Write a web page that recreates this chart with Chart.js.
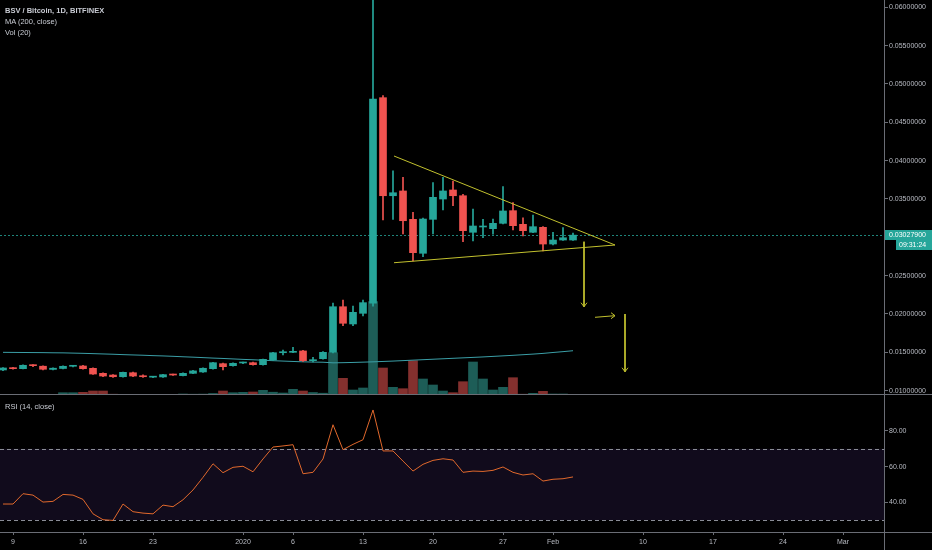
<!DOCTYPE html>
<html>
<head>
<meta charset="utf-8">
<title>BSV / Bitcoin, 1D, BITFINEX</title>
<script src="https://cdn.jsdelivr.net/npm/chart.js@4.4.1/dist/chart.umd.min.js"></script>
<style>
  html, body { margin: 0; padding: 0; background: #000; }
  #wrap { position: relative; width: 932px; height: 550px; overflow: hidden;
          font-family: "Liberation Sans", Arial, sans-serif; }
  canvas { position: absolute; left: 0; }
  #main { top: 0; }
  #rsi { top: 395px; }
  .legend { position: absolute; left: 5px; color: #c9ccd4; font-size: 7.5px; line-height: 11px; }
  .legend b { font-weight: 600; }
</style>
</head>
<body>
<div id="wrap">
  <canvas id="main" width="932" height="395"></canvas>
  <canvas id="rsi" width="932" height="155"></canvas>
  <div class="legend" style="top:5px"><b>BSV / Bitcoin, 1D, BITFINEX</b><br>MA (200, close)<br>Vol (20)</div>
  <div class="legend" style="top:401px">RSI (14, close)</div>
</div>
<script>
"use strict";

// Days counted from 1 Jan 2020 (Dec 8 2019 .. Feb 3 2020).
const days = [-24, -23, -22, -21, -20, -19, -18, -17, -16, -15, -14, -13, -12, -11, -10, -9,
  -8, -7, -6, -5, -4, -3, -2, -1, 0, 1, 2, 3, 4, 5, 6, 7, 8, 9, 10, 11, 12, 13, 14, 15, 16,
  17, 18, 19, 20, 21, 22, 23, 24, 25, 26, 27, 28, 29, 30, 31, 32, 33];

const opens = [0.01269, 0.01295, 0.01286, 0.01330, 0.01318, 0.01276, 0.01288, 0.01317, 0.01321, 0.01290,
  0.01225, 0.01203, 0.01181, 0.01233, 0.01190, 0.01175, 0.01178, 0.01210, 0.01195, 0.01225,
  0.01243, 0.01286, 0.01351, 0.01325, 0.01360, 0.01364, 0.01338, 0.01399, 0.01494, 0.01499,
  0.01517, 0.01390, 0.01416, 0.01499, 0.02094, 0.01869, 0.02008, 0.02140, 0.04821, 0.03542,
  0.03604, 0.03234, 0.02791, 0.03234, 0.03499, 0.03617, 0.03542, 0.03065, 0.03134, 0.03112,
  0.03182, 0.03347, 0.03169, 0.03065, 0.03130, 0.02912, 0.02964, 0.02964];
const highs = [0.01300, 0.01302, 0.01335, 0.01340, 0.01322, 0.01298, 0.01322, 0.01328, 0.01330, 0.01298,
  0.01230, 0.01210, 0.01242, 0.01240, 0.01205, 0.01182, 0.01212, 0.01215, 0.01230, 0.01265,
  0.01298, 0.01370, 0.01360, 0.01362, 0.01372, 0.01372, 0.01412, 0.01500, 0.01529, 0.01565,
  0.01525, 0.01434, 0.01510, 0.02143, 0.02181, 0.02103, 0.02181, 0.06300, 0.04847, 0.03868,
  0.03782, 0.03326, 0.03250, 0.03712, 0.03782, 0.03734, 0.03560, 0.03369, 0.03234, 0.03238,
  0.03660, 0.03451, 0.03255, 0.03291, 0.03140, 0.03065, 0.03125, 0.03056];
const lows = [0.01260, 0.01280, 0.01282, 0.01312, 0.01270, 0.01270, 0.01282, 0.01310, 0.01280, 0.01210,
  0.01182, 0.01172, 0.01176, 0.01182, 0.01172, 0.01170, 0.01172, 0.01198, 0.01190, 0.01220,
  0.01238, 0.01280, 0.01268, 0.01320, 0.01350, 0.01330, 0.01332, 0.01392, 0.01464, 0.01494,
  0.01380, 0.01373, 0.01410, 0.01490, 0.01846, 0.01846, 0.01973, 0.02100, 0.03225, 0.03234,
  0.03043, 0.02690, 0.02747, 0.03043, 0.03356, 0.03412, 0.02942, 0.02951, 0.02994, 0.03039,
  0.03173, 0.03095, 0.03017, 0.03060, 0.02821, 0.02899, 0.02960, 0.02960];
const closes = [0.01295, 0.01286, 0.01330, 0.01325, 0.01278, 0.01292, 0.01317, 0.01321, 0.01286, 0.01216,
  0.01190, 0.01181, 0.01238, 0.01190, 0.01181, 0.01179, 0.01208, 0.01203, 0.01225, 0.01257,
  0.01291, 0.01364, 0.01312, 0.01356, 0.01364, 0.01338, 0.01408, 0.01494, 0.01499, 0.01512,
  0.01390, 0.01403, 0.01499, 0.02094, 0.01878, 0.02021, 0.02147, 0.04804, 0.03542, 0.03581,
  0.03216, 0.02799, 0.03238, 0.03521, 0.03604, 0.03542, 0.03086, 0.03147, 0.03140, 0.03182,
  0.03343, 0.03151, 0.03086, 0.03138, 0.02912, 0.02964, 0.02994, 0.030279];

const volumes = [300, 400, 500, 700, 700, 600, 2300, 2300, 2700, 4000,
  4000, 800, 700, 700, 500, 400, 600, 500, 1000, 800,
  900, 1500, 4000, 2300, 2700, 3000, 4700, 2800, 2000, 5700,
  4000, 2500, 1800, 42300, 16700, 5000, 7000, 93300, 27000, 7700,
  6300, 34300, 16000, 10000, 4000, 2300, 13300, 33000, 16000, 5000,
  7700, 17300, 800, 1700, 3700, 1000, 1000, 700];

const ma200 = [0.01499, 0.01498, 0.01497, 0.01496, 0.01495, 0.01493, 0.01492, 0.01489, 0.01486, 0.01482,
  0.01478, 0.01474, 0.01469, 0.01465, 0.01461, 0.01456, 0.01452, 0.01447, 0.01441, 0.01436,
  0.01430, 0.01424, 0.01419, 0.01413, 0.01407, 0.01402, 0.01396, 0.01390, 0.01385, 0.01380,
  0.01375, 0.01372, 0.01370, 0.01362, 0.01364, 0.01367, 0.01371, 0.01375, 0.01380, 0.01385,
  0.01391, 0.01397, 0.01403, 0.01409, 0.01415, 0.01421, 0.01427, 0.01433, 0.01439, 0.01446,
  0.01453, 0.01460, 0.01468, 0.01476, 0.01485, 0.01497, 0.01508, 0.01520];

const rsi14 = [39.0, 39.0, 44.8, 44.0, 40.1, 40.5, 44.4, 44.0, 41.6, 33.5,
  30.2, 29.8, 39.0, 34.7, 33.9, 33.5, 38.4, 37.5, 41.4, 46.9,
  54.0, 61.6, 56.6, 59.6, 60.2, 57.1, 64.3, 71.0, 71.6, 72.3,
  56.0, 56.8, 64.3, 83.5, 69.5, 72.5, 75.1, 91.8, 68.8, 68.8,
  63.1, 57.5, 61.3, 63.5, 64.4, 63.7, 56.8, 57.5, 57.3, 57.9,
  59.8, 56.8, 55.3, 56.0, 51.9, 52.9, 53.2, 54.2];

// Hand-drawn triangle and arrows, as [day, price]
const upperLine = [[15.1, 0.04060], [37.2, 0.02899]];
const lowerLine = [[15.1, 0.02668], [37.2, 0.02899]];
const arrowDownA = [[34.1, 0.02942], [34.1, 0.02094]];
const arrowRight = [[35.2, 0.01956], [37.2, 0.01977]];
const arrowDownB = [[38.2, 0.01999], [38.2, 0.01246]];

// Axis ticks
const priceTicks = [0.010, 0.015, 0.020, 0.025, 0.030, 0.035, 0.040, 0.045, 0.050, 0.055, 0.060];
const rsiTicks = [40, 60, 80];
const rsiBands = [70, 30];
const tickDays = [-23, -16, -9, 0, 5, 12, 19, 26, 31, 40, 47, 54, 60];
const tickLabels = ["9", "16", "23", "2020", "6", "13", "20", "27", "Feb", "10", "17", "24", "Mar"];
const timeLeft = "09:31:24";

const X_MIN = -24.3, X_MAX = 64.1;
const UP = "#26a69a", DOWN = "#ef5350";
const UP_VOL = "#1d5d57", DOWN_VOL = "#84302e";
const DRAW = "#c2c12e";
const AXIS = "#6a6d75";
const TEXT = "#b8bbc3";
const FONT = { family: "Liberation Sans, Arial, sans-serif", size: 7 };

const isUp = closes.map((c, i) => c >= opens[i]);
const pts = (arr) => arr.map(([x, y]) => ({ x, y }));
const series = (vals) => days.map((d, i) => ({ x: d, y: vals[i] }));

const fitRight = (s) => { s.width = 48; s.paddingTop = 0; s.paddingBottom = 0; };
const fitBottom = (s) => { s.height = 18; s.paddingLeft = 0; s.paddingRight = 0; };

/** A thin yellow drawing-tool line on the price scale. */
function drawLine(line) {
  return {
    type: "line", data: pts(line), yAxisID: "y", borderColor: DRAW, borderWidth: 1,
    pointRadius: 0, order: 1,
  };
}

/** Arrowheads, current price line and price label on the main chart. */
const mainOverlay = {
  id: "mainOverlay",
  beforeDatasetsDraw(chart) {
    const { ctx, chartArea, scales } = chart;
    const last = closes[closes.length - 1];
    const y = scales.y.getPixelForValue(last);
    ctx.save();
    ctx.strokeStyle = "rgba(38,166,154,0.8)";
    ctx.setLineDash([2, 2]);
    ctx.lineWidth = 1;
    ctx.beginPath();
    ctx.moveTo(chartArea.left, Math.round(y) + 0.5);
    ctx.lineTo(chartArea.right, Math.round(y) + 0.5);
    ctx.stroke();
    ctx.restore();
  },
  afterDatasetsDraw(chart) {
    const { ctx, scales } = chart;
    const head = (arrow, dir) => {
      const [x, v] = arrow[arrow.length - 1];
      const px = scales.x.getPixelForValue(x);
      const py = scales.y.getPixelForValue(v);
      ctx.beginPath();
      if (dir === "down") {
        ctx.moveTo(px - 3, py - 4); ctx.lineTo(px, py); ctx.lineTo(px + 3, py - 4);
      } else {
        ctx.moveTo(px - 4, py - 3); ctx.lineTo(px, py); ctx.lineTo(px - 4, py + 3);
      }
      ctx.stroke();
    };
    ctx.save();
    ctx.strokeStyle = DRAW;
    ctx.lineWidth = 1;
    head(arrowDownA, "down");
    head(arrowRight, "right");
    head(arrowDownB, "down");
    ctx.restore();
  },
  afterDraw(chart) {
    const { ctx, chartArea, scales, width } = chart;
    const last = closes[closes.length - 1];
    const y = Math.round(scales.y.getPixelForValue(last));
    ctx.save();
    // panel separator
    ctx.strokeStyle = AXIS;
    ctx.lineWidth = 1;
    ctx.beginPath();
    ctx.moveTo(0, chartArea.bottom - 0.5);
    ctx.lineTo(width, chartArea.bottom - 0.5);
    ctx.stroke();
    // price label + countdown
    ctx.fillStyle = UP;
    ctx.fillRect(chartArea.right + 1, y - 5, width - chartArea.right - 1, 10);
    ctx.fillRect(chartArea.right + 12, y + 5, width - chartArea.right - 12, 10);
    ctx.fillStyle = "#ffffff";
    ctx.font = "7px Liberation Sans, Arial, sans-serif";
    ctx.textBaseline = "middle";
    ctx.fillText(last.toFixed(8), chartArea.right + 5, y);
    ctx.fillText(timeLeft, chartArea.right + 15, y + 10);
    ctx.restore();
  },
};

const mainChart = new Chart(document.getElementById("main"), {
  data: {
    datasets: [
      {
        type: "bar", label: "Vol", yAxisID: "vol", order: 6,
        data: series(volumes),
        backgroundColor: isUp.map((u) => (u ? UP_VOL : DOWN_VOL)),
        barThickness: 9, grouped: false, borderWidth: 0,
      },
      {
        type: "line", label: "MA", yAxisID: "y", order: 5,
        data: series(ma200),
        borderColor: "#3b9fa7", borderWidth: 1, pointRadius: 0,
      },
      {
        type: "bar", label: "Wick", yAxisID: "y", order: 4,
        data: days.map((d, i) => ({ x: d, y: [lows[i], highs[i]] })),
        backgroundColor: isUp.map((u) => (u ? UP : DOWN)),
        barThickness: 1, grouped: false, borderWidth: 0,
      },
      {
        type: "bar", label: "Body", yAxisID: "y", order: 3,
        data: days.map((d, i) => ({ x: d, y: [opens[i], closes[i]] })),
        backgroundColor: isUp.map((u) => (u ? UP : DOWN)),
        barThickness: 7, grouped: false, borderWidth: 0, minBarLength: 1,
      },
      drawLine(upperLine),
      drawLine(lowerLine),
      drawLine(arrowDownA),
      drawLine(arrowRight),
      drawLine(arrowDownB),
    ],
  },
  options: {
    responsive: false,
    animation: false,
    events: [],
    layout: { padding: 0 },
    plugins: { legend: { display: false }, tooltip: { enabled: false } },
    scales: {
      x: { type: "linear", min: X_MIN, max: X_MAX, display: false, offset: false },
      y: {
        type: "linear", position: "right", min: 0.009424, max: 0.060952,
        afterBuildTicks: (s) => { s.ticks = priceTicks.map((v) => ({ value: v })); },
        afterFit: fitRight,
        grid: { drawOnChartArea: false, drawTicks: true, tickLength: 4, color: AXIS },
        border: { display: true, color: AXIS },
        ticks: { color: TEXT, font: FONT, padding: 1, callback: (v) => Number(v).toFixed(8) },
      },
      vol: { type: "linear", display: false, min: 0, max: 395000 },
    },
  },
  plugins: [mainOverlay],
});

/** RSI band, guide lines and axis frame. */
const rsiOverlay = {
  id: "rsiOverlay",
  beforeDatasetsDraw(chart) {
    const { ctx, chartArea, scales } = chart;
    const top = scales.y.getPixelForValue(rsiBands[0]);
    const bottom = scales.y.getPixelForValue(rsiBands[1]);
    ctx.save();
    ctx.fillStyle = "#110b1c";
    ctx.fillRect(chartArea.left, top, chartArea.right - chartArea.left, bottom - top);
    ctx.strokeStyle = "#8a8d96";
    ctx.lineWidth = 1;
    ctx.setLineDash([4, 3]);
    for (const v of rsiBands) {
      const y = Math.round(scales.y.getPixelForValue(v)) + 0.5;
      ctx.beginPath();
      ctx.moveTo(chartArea.left, y);
      ctx.lineTo(chartArea.right, y);
      ctx.stroke();
    }
    ctx.restore();
  },
  afterDraw(chart) {
    const { ctx, chartArea, width, height } = chart;
    ctx.save();
    ctx.strokeStyle = AXIS;
    ctx.lineWidth = 1;
    ctx.beginPath();
    ctx.moveTo(0, chartArea.bottom + 0.5);
    ctx.lineTo(width, chartArea.bottom + 0.5);
    ctx.moveTo(chartArea.right + 0.5, chartArea.bottom);
    ctx.lineTo(chartArea.right + 0.5, height);
    ctx.stroke();
    ctx.restore();
  },
};

const rsiChart = new Chart(document.getElementById("rsi"), {
  type: "line",
  data: {
    datasets: [
      {
        label: "RSI", data: series(rsi14),
        borderColor: "#e0682c", borderWidth: 1, pointRadius: 0,
      },
    ],
  },
  options: {
    responsive: false,
    animation: false,
    events: [],
    layout: { padding: 0 },
    plugins: { legend: { display: false }, tooltip: { enabled: false } },
    scales: {
      x: {
        type: "linear", min: X_MIN, max: X_MAX,
        afterBuildTicks: (s) => { s.ticks = tickDays.map((v) => ({ value: v })); },
        afterFit: fitBottom,
        grid: { drawOnChartArea: false, drawTicks: true, tickLength: 3, color: AXIS },
        border: { display: false },
        ticks: { color: TEXT, font: FONT, padding: 3, maxRotation: 0, autoSkip: false,
                 callback: (v, i) => tickLabels[i] },
      },
      y: {
        type: "linear", position: "right", min: 23.3, max: 100.2,
        afterBuildTicks: (s) => { s.ticks = rsiTicks.map((v) => ({ value: v })); },
        afterFit: fitRight,
        grid: { drawOnChartArea: false, drawTicks: true, tickLength: 4, color: AXIS },
        border: { display: true, color: AXIS },
        ticks: { color: TEXT, font: FONT, padding: 1, callback: (v) => Number(v).toFixed(2) },
      },
    },
  },
  plugins: [rsiOverlay],
});
</script>
</body>
</html>
